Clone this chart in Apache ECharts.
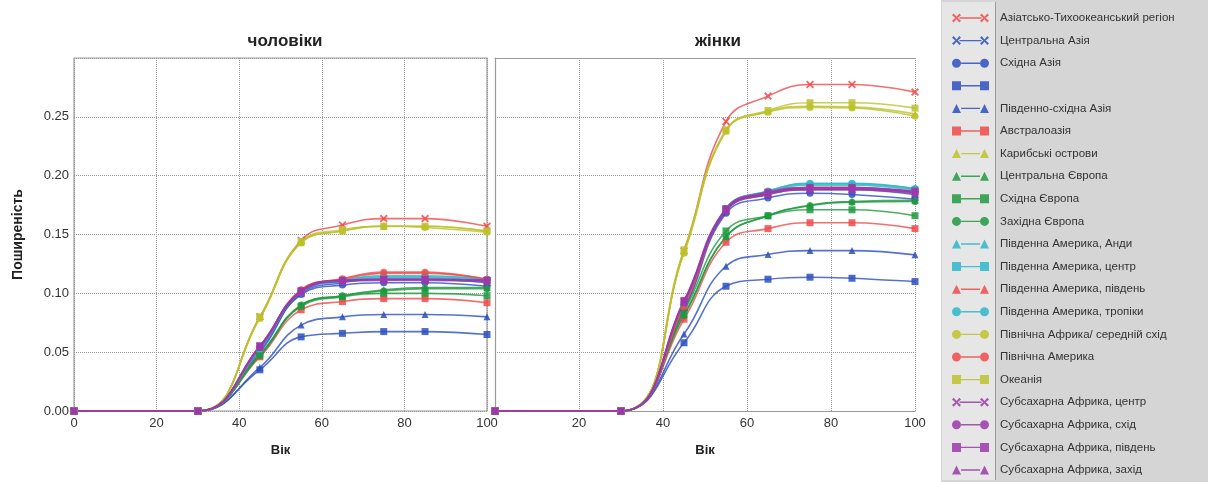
<!DOCTYPE html>
<html>
<head>
<meta charset="utf-8">
<script src="https://cdn.jsdelivr.net/npm/echarts@6/dist/echarts.min.js"></script>
<style>
html,body{margin:0;padding:0;background:#fff;}
#c{width:1208px;height:482px;}
</style>
</head>
<body>
<div id="c"></div>
<script>
// ---------- data ----------
const ages = [0, 30, 45, 55, 65, 75, 85, 100];

const regionNames = [
  'Азіатсько-Тихоокеанський регіон',
  'Центральна Азія',
  'Східна Азія',
  ' ',
  'Південно-східна Азія',
  'Австралоазія',
  'Карибські острови',
  'Центральна Європа',
  'Східна Європа',
  'Західна Європа',
  'Південна Америка, Анди',
  'Південна Америка, центр',
  'Південна Америка, південь',
  'Південна Америка, тропіки',
  'Північна Африка/ середній схід',
  'Північна Америка',
  'Океанія',
  'Субсахарна Африка, центр',
  'Субсахарна Африка, схід',
  'Субсахарна Африка, південь',
  'Субсахарна Африка, захід'
];

const regionColors = ['red','blue','blue','blue','blue','red','yellow','green','green','green',
  'cyan','cyan','red','cyan','yellow','red','yellow','purple','purple','purple','purple'];
const regionMarkers = ['cross','cross','circle','square','triangle','square','triangle','triangle','square','circle',
  'triangle','square','triangle','circle','circle','circle','square','cross','circle','square','triangle'];

const menValues = [
  [0,0,0.080,0.145,0.158,0.1635,0.1635,0.157],
  [0,0,0.052,0.100,0.109,0.112,0.112,0.109],
  [0,0,0.050,0.099,0.107,0.109,0.109,0.106],
  [0,0,0.035,0.063,0.066,0.0675,0.0675,0.065],
  [0,0,0.037,0.073,0.080,0.082,0.082,0.080],
  [0,0,0.046,0.086,0.093,0.0955,0.0955,0.092],
  [0,0,0.079,0.143,0.153,0.157,0.157,0.153],
  [0,0,0.047,0.090,0.098,0.103,0.105,0.105],
  [0,0,0.048,0.089,0.097,0.100,0.100,0.098],
  [0,0,0.048,0.090,0.098,0.102,0.104,0.104],
  [0,0,0.053,0.102,0.111,0.114,0.114,0.112],
  [0,0,0.053,0.101,0.110,0.113,0.113,0.111],
  [0,0,0.054,0.103,0.112,0.117,0.117,0.112],
  [0,0,0.053,0.102,0.111,0.115,0.115,0.112],
  [0,0,0.079,0.143,0.153,0.157,0.156,0.152],
  [0,0,0.054,0.103,0.1125,0.118,0.118,0.112],
  [0,0,0.080,0.144,0.154,0.157,0.157,0.153],
  [0,0,0.055,0.102,0.111,0.112,0.112,0.111],
  [0,0,0.055,0.102,0.111,0.112,0.112,0.111],
  [0,0,0.0555,0.102,0.111,0.1115,0.1115,0.111],
  [0,0,0.054,0.101,0.110,0.111,0.111,0.110]
];

const womenValues = [
  [0,0,0.136,0.246,0.2676,0.2775,0.2775,0.271],
  [0,0,0.088,0.170,0.184,0.188,0.188,0.184],
  [0,0,0.086,0.168,0.181,0.185,0.184,0.180],
  [0,0,0.058,0.106,0.112,0.1137,0.1128,0.110],
  [0,0,0.0655,0.123,0.133,0.1363,0.1363,0.1327],
  [0,0,0.078,0.1434,0.155,0.160,0.160,0.155],
  [0,0,0.135,0.238,0.2545,0.259,0.2585,0.2525],
  [0,0,0.082,0.148,0.166,0.175,0.178,0.179],
  [0,0,0.085,0.153,0.166,0.171,0.171,0.166],
  [0,0,0.081,0.148,0.166,0.1745,0.1775,0.178],
  [0,0,0.090,0.172,0.187,0.193,0.193,0.189],
  [0,0,0.090,0.172,0.186,0.192,0.192,0.188],
  [0,0,0.089,0.171,0.185,0.190,0.190,0.186],
  [0,0,0.090,0.172,0.187,0.1935,0.1935,0.189],
  [0,0,0.134,0.238,0.254,0.258,0.2575,0.2506],
  [0,0,0.089,0.171,0.185,0.190,0.190,0.186],
  [0,0,0.137,0.239,0.2554,0.262,0.262,0.2574],
  [0,0,0.093,0.171,0.185,0.189,0.189,0.186],
  [0,0,0.093,0.171,0.185,0.189,0.189,0.186],
  [0,0,0.094,0.172,0.186,0.190,0.190,0.187],
  [0,0,0.092,0.170,0.184,0.188,0.188,0.185]
];

const xTicks = [0, 20, 40, 60, 80, 100];
const yTicks = [0, 0.05, 0.10, 0.15, 0.20, 0.25];

const panelTitles = ['чоловіки', 'жінки'];
const xName = 'Вік';
const yName = 'Поширеність';

// ---------- style ----------
const palette = {
  red: '#f04a4a',
  blue: '#2d4fc0',
  green: '#1f9a3e',
  cyan: '#2ab7c9',
  yellow: '#bcc22a',
  purple: '#9b38aa'
};
const FONT = 'Liberation Sans, Arial, sans-serif';

const seriesSymbol = {
  cross: 'path://M0,1.6 L1.6,0 L5,3.4 L8.4,0 L10,1.6 L6.6,5 L10,8.4 L8.4,10 L5,6.6 L1.6,10 L0,8.4 L3.4,5 Z',
  circle: 'circle',
  square: 'rect',
  triangle: 'triangle'
};
const seriesSymbolSize = { cross: 8, circle: 7, square: 7, triangle: 7 };

// legend icon: marker - line - marker, box 37 x 9
function markerPath(type, cx) {
  const r = 4.5, cy = 4.5;
  if (type === 'cross') {
    const t = 1.7;
    return `M${cx-r},${cy-r+t} L${cx-r+t},${cy-r} L${cx},${cy-t*0.7} L${cx+r-t},${cy-r} L${cx+r},${cy-r+t} L${cx+t*0.7},${cy} L${cx+r},${cy+r-t} L${cx+r-t},${cy+r} L${cx},${cy+t*0.7} L${cx-r+t},${cy+r} L${cx-r},${cy+r-t} L${cx-t*0.7},${cy} Z`;
  }
  if (type === 'circle') {
    return `M${cx-r},${cy} A${r},${r} 0 1 0 ${cx+r},${cy} A${r},${r} 0 1 0 ${cx-r},${cy} Z`;
  }
  if (type === 'square') {
    return `M${cx-r},${cy-r} L${cx+r},${cy-r} L${cx+r},${cy+r} L${cx-r},${cy+r} Z`;
  }
  return `M${cx},${cy-r} L${cx+r},${cy+r} L${cx-r},${cy+r} Z`;
}
function legendIcon(type) {
  const inset = type === 'cross' ? 7.5 : 9;
  const line = `M${inset},3.8 L${37-inset},3.8 L${37-inset},5.2 L${inset},5.2 Z`;
  return 'path://' + markerPath(type, 4.5) + ' ' + line + ' ' + markerPath(type, 32.5);
}

const series = [];
[menValues, womenValues].forEach((vals, gi) => {
  regionNames.forEach((name, i) => {
    const m = regionMarkers[i];
    series.push({
      name: name,
      type: 'line',
      xAxisIndex: gi,
      yAxisIndex: gi,
      data: ages.map((a, k) => [a, vals[i][k]]),
      smooth: 0.45,
      symbol: seriesSymbol[m],
      symbolSize: seriesSymbolSize[m],
      showAllSymbol: true,
      color: palette[regionColors[i]],
      lineStyle: { width: 1.6, opacity: 0.8 },
      itemStyle: { opacity: 0.85 },
      emphasis: { disabled: true },
      z: 2
    });
  });
});

const axisLabelStyle = { fontFamily: FONT, fontSize: 13, color: '#333' };
const splitLineStyle = { show: true, lineStyle: { type: 'dotted', color: '#9a9a9a', width: 1 } };

const option = {
  animation: false,
  backgroundColor: '#ffffff',
  title: [
    { text: panelTitles[0], left: 280, top: 28, textAlign: 'center',
      textStyle: { fontFamily: FONT, fontSize: 17, fontWeight: 'bold', color: '#222' } },
    { text: panelTitles[1], left: 713, top: 28, textAlign: 'center',
      textStyle: { fontFamily: FONT, fontSize: 17, fontWeight: 'bold', color: '#222' } }
  ],
  graphic: [
    { type: 'rect', shape: { x: 941, y: 0, width: 267, height: 482 }, style: { fill: '#d5d5d5' }, z: -10 },
    { type: 'rect', shape: { x: 942, y: 2, width: 53, height: 478 }, style: { fill: '#e6e6e6' }, z: -9 },
    { type: 'line', shape: { x1: 995.5, y1: 2, x2: 995.5, y2: 480 }, style: { stroke: '#9a9a9a', lineWidth: 1 }, z: -8 }
  ],
  legend: {
    orient: 'vertical',
    left: 952,
    top: 11,
    padding: 0,
    itemWidth: 37,
    itemHeight: 9,
    itemGap: 8.6,
    selectedMode: false,
    data: regionNames.map((n, i) => ({ name: n, icon: legendIcon(regionMarkers[i]) })),
    textStyle: { fontFamily: FONT, fontSize: 11.5, color: '#333', lineHeight: 14, padding: [0, 0, 0, 6] }
  },
  grid: [
    { left: 74, right: 721, top: 58, bottom: 71, show: true, borderColor: '#9a9a9a', borderWidth: 1.2 },
    { left: 495, right: 293, top: 58, bottom: 71, show: false }
  ],
  xAxis: [
    { type: 'value', gridIndex: 0, min: xTicks[0], max: xTicks[xTicks.length-1], interval: xTicks[1]-xTicks[0],
      name: xName, nameLocation: 'middle', nameGap: 33,
      nameTextStyle: { fontFamily: FONT, fontSize: 13, fontWeight: 'bold', color: '#222' },
      axisLine: { show: false }, axisTick: { show: false },
      axisLabel: Object.assign({ margin: 6 }, axisLabelStyle),
      splitLine: splitLineStyle },
    { type: 'value', gridIndex: 1, min: xTicks[0], max: xTicks[xTicks.length-1], interval: xTicks[1]-xTicks[0],
      name: xName, nameLocation: 'middle', nameGap: 33,
      nameTextStyle: { fontFamily: FONT, fontSize: 13, fontWeight: 'bold', color: '#222' },
      axisLine: { show: true, lineStyle: { color: '#9a9a9a', width: 1.2 } }, axisTick: { show: false },
      axisLabel: Object.assign({ margin: 6, showMinLabel: false }, axisLabelStyle),
      splitLine: splitLineStyle },
    { type: 'value', gridIndex: 1, position: 'top', min: xTicks[0], max: xTicks[xTicks.length-1],
      interval: xTicks[1]-xTicks[0],
      axisLine: { show: true, lineStyle: { color: '#9a9a9a', width: 1.2 } }, axisTick: { show: false },
      axisLabel: { show: false }, splitLine: { show: false } }
  ],
  yAxis: [
    { type: 'value', gridIndex: 0, min: 0, max: 0.30, interval: yTicks[1]-yTicks[0],
      name: yName, nameLocation: 'middle', nameGap: 49, nameRotate: 90,
      nameTextStyle: { fontFamily: FONT, fontSize: 14, fontWeight: 'bold', color: '#222' },
      axisLine: { show: false }, axisTick: { show: false },
      axisLabel: Object.assign({ margin: 5, showMaxLabel: false,
        formatter: v => yTicks.some(t => Math.abs(t - v) < 1e-9) ? v.toFixed(2) : '' }, axisLabelStyle),
      splitLine: splitLineStyle },
    { type: 'value', gridIndex: 1, position: 'right', min: 0, max: 0.30, interval: yTicks[1]-yTicks[0],
      axisLine: { show: true, lineStyle: { color: '#9a9a9a', width: 1.2 } }, axisTick: { show: false },
      axisLabel: { show: false },
      splitLine: splitLineStyle }
  ],
  series: series
};

const chart = echarts.init(document.getElementById('c'), null, { renderer: 'canvas' });
chart.setOption(option);
</script>
</body>
</html>
